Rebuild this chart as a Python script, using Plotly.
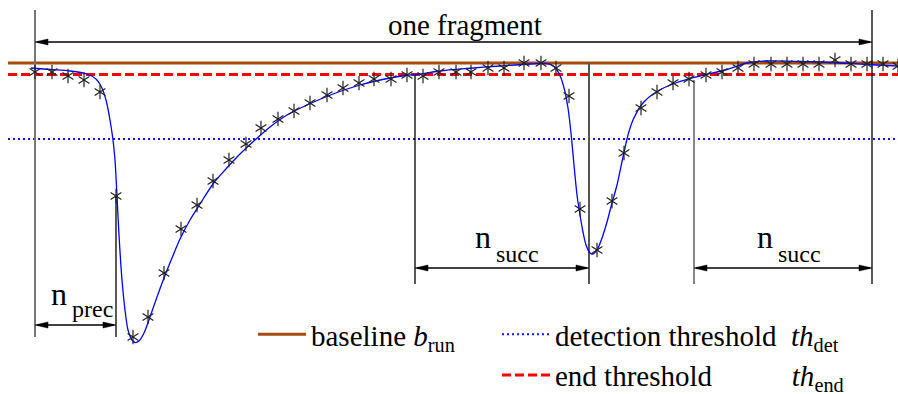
import plotly.graph_objects as go

# ---------------- data (t: sample time, arbitrary units; signal: baseline = 0) -------------
sample_t = [0, 17, 33, 49, 65, 81, 98, 113, 129, 146, 162, 178, 194, 211, 226, 243, 259,
            275, 292, 308, 324, 339, 356, 372, 388, 404, 421, 436, 453, 469, 489, 506, 521,
            534, 545, 562, 577, 589, 606, 622, 638, 654, 671, 687, 703, 719, 736, 752, 768,
            784, 800, 816, 832, 848, 863]
sample_v = [-9, -9, -13, -17, -29, -133, -274, -254, -210, -166, -142, -118, -97, -81, -65,
            -56, -48, -40, -32, -25, -20, -16, -16, -12, -13, -9, -9, -9, -5, -5, 0, 0, -5,
            -33, -146, -187, -138, -90, -45, -29, -20, -16, -12, -9, -5, -1, -1, -1, -1, -1,
            3, -1, -1, -1, -3]

fit_t = [-4, 15, 35, 52, 61, 66, 71, 75, 78, 80, 82, 84, 87, 90, 93, 97, 100, 104, 109,
         115, 122, 129, 137, 145, 155, 165, 178, 190, 205, 220, 235, 252, 272, 298, 325,
         350, 370, 385, 405, 432, 465, 495, 510, 517, 522, 526, 530, 533, 536, 539, 542,
         545, 548, 551, 555, 558, 562, 567, 572, 577, 582, 588, 593, 598, 608, 622, 642,
         665, 692, 712, 732, 765, 798, 832, 863]
fit_v = [-5, -6.5, -8, -11, -16, -23, -37, -57, -77, -97, -133, -172, -217, -247, -267,
         -277, -279.5, -278, -270, -254, -234, -215, -195, -176, -157, -141, -121, -107,
         -91, -77, -64, -52, -42, -31, -22, -16, -12.5, -11, -8, -5.5, -3, -1, -0.5, -2,
         -7, -15, -29, -45, -70, -102, -132, -152, -169, -182, -190, -191, -187, -175,
         -159, -140, -122, -94, -72, -57, -40, -28.5, -19.5, -13, -6.5, 0, 2, 1.5, 0.5,
         -1.5, -3]

baseline_level = 0.0
end_threshold = -11.5
det_threshold = -76.0
line_span = [-27, 863]

frag_start, frag_end = 0, 837
prec_end = 81
succ1_start, succ1_end = 380, 554
succ2_start, succ2_end = 659, 837

FONT = "Liberation Serif"

fig = go.Figure()

# horizontal reference lines (with legend entries)
fig.add_trace(go.Scatter(x=line_span, y=[baseline_level] * 2, mode="lines",
                         line=dict(color="#a64b0f", width=3),
                         name="baseline <i>b</i><sub>run</sub>", legend="legend"))
fig.add_trace(go.Scatter(x=line_span, y=[det_threshold] * 2, mode="lines",
                         line=dict(color="#1010ff", width=2, dash="2px,3px"),
                         name="detection threshold\u00a0\u00a0<i>th</i><sub>det</sub>",
                         legend="legend2"))
fig.add_trace(go.Scatter(x=line_span, y=[end_threshold] * 2, mode="lines",
                         line=dict(color="#ff0000", width=3, dash="9px,4px"),
                         name="end threshold" + "\u00a0" * 11 + "<i>th</i><sub>end</sub>",
                         legend="legend2"))

# vertical markers
def vline(x, y0, y1, color, width):
    fig.add_trace(go.Scatter(x=[x, x], y=[y0, y1], mode="lines", showlegend=False,
                             line=dict(color=color, width=width), hoverinfo="skip"))

vline(frag_start, 53, -274, "#777777", 2)
vline(prec_end, -133, -274, "#000000", 1.3)
vline(succ1_start, -12, -221, "#000000", 1.3)
vline(succ1_end, 0, -221, "#555555", 2)
vline(succ2_start, -17, -221, "#888888", 2)
vline(frag_end, 53, -221, "#000000", 1.3)

# fitted curve
fig.add_trace(go.Scatter(x=fit_t, y=fit_v, mode="lines", showlegend=False,
                         line=dict(color="#0000ff", width=1.3, shape="spline", smoothing=0.8),
                         hoverinfo="skip"))
# samples as 6-armed stars
for sym in ("y-up-open", "y-down-open"):
    fig.add_trace(go.Scatter(x=sample_t, y=sample_v, mode="markers", showlegend=False,
                             marker=dict(symbol=sym, size=9, color="#222222",
                                         line=dict(color="#222222", width=1.2))))

# double arrows
HL, HW = 13, 3
def darrow(x0, x1, y):
    fig.add_trace(go.Scatter(x=[x0 + 2, x1 - 2], y=[y, y], mode="lines", showlegend=False,
                             line=dict(color="black", width=1.3), hoverinfo="skip"))
    for tip, d in ((x0, 1), (x1, -1)):
        fig.add_trace(go.Scatter(x=[tip, tip + d * HL, tip + d * HL, tip],
                                 y=[y, y + HW, y - HW, y], mode="lines", fill="toself",
                                 fillcolor="black", line=dict(color="black", width=0.5),
                                 showlegend=False, hoverinfo="skip"))

darrow(frag_start, frag_end, 21)
darrow(frag_start, prec_end, -262)
darrow(succ1_start, succ1_end, -205)
darrow(succ2_start, succ2_end, -205)

def label(x, y, text, size):
    fig.add_annotation(x=x, y=y, text=text, showarrow=False, xanchor="center",
                       yanchor="middle", font=dict(family=FONT, size=size, color="black"))

label(430, 38, "one fragment", 29)
label(24.3, -231.4, "n", 32)
label(57.7, -245.8, "prec", 24)
label(448, -174.4, "n", 32)
label(482.5, -190.8, "succ", 24)
label(730.3, -174.4, "n", 32)
label(764.8, -190.8, "succ", 24)

legend_common = dict(font=dict(family=FONT, size=29, color="black"),
                     bgcolor="rgba(0,0,0,0)", borderwidth=0, xanchor="left",
                     yanchor="top", itemwidth=48, tracegroupgap=0)
fig.update_layout(
    width=898, height=394, autosize=False,
    font=dict(family=FONT),
    margin=dict(l=0, r=0, t=0, b=0, pad=0, autoexpand=False),
    paper_bgcolor="white", plot_bgcolor="white",
    xaxis=dict(range=[-35, 863], visible=False, fixedrange=True),
    yaxis=dict(range=[-331, 63], visible=False, fixedrange=True),
    legend=dict(x=253 / 898, y=1 - 309 / 394, **legend_common),
    legend2=dict(x=497 / 898, y=1 - 309 / 394, **legend_common),
    showlegend=True,
)

fig.write_html("out.html")
